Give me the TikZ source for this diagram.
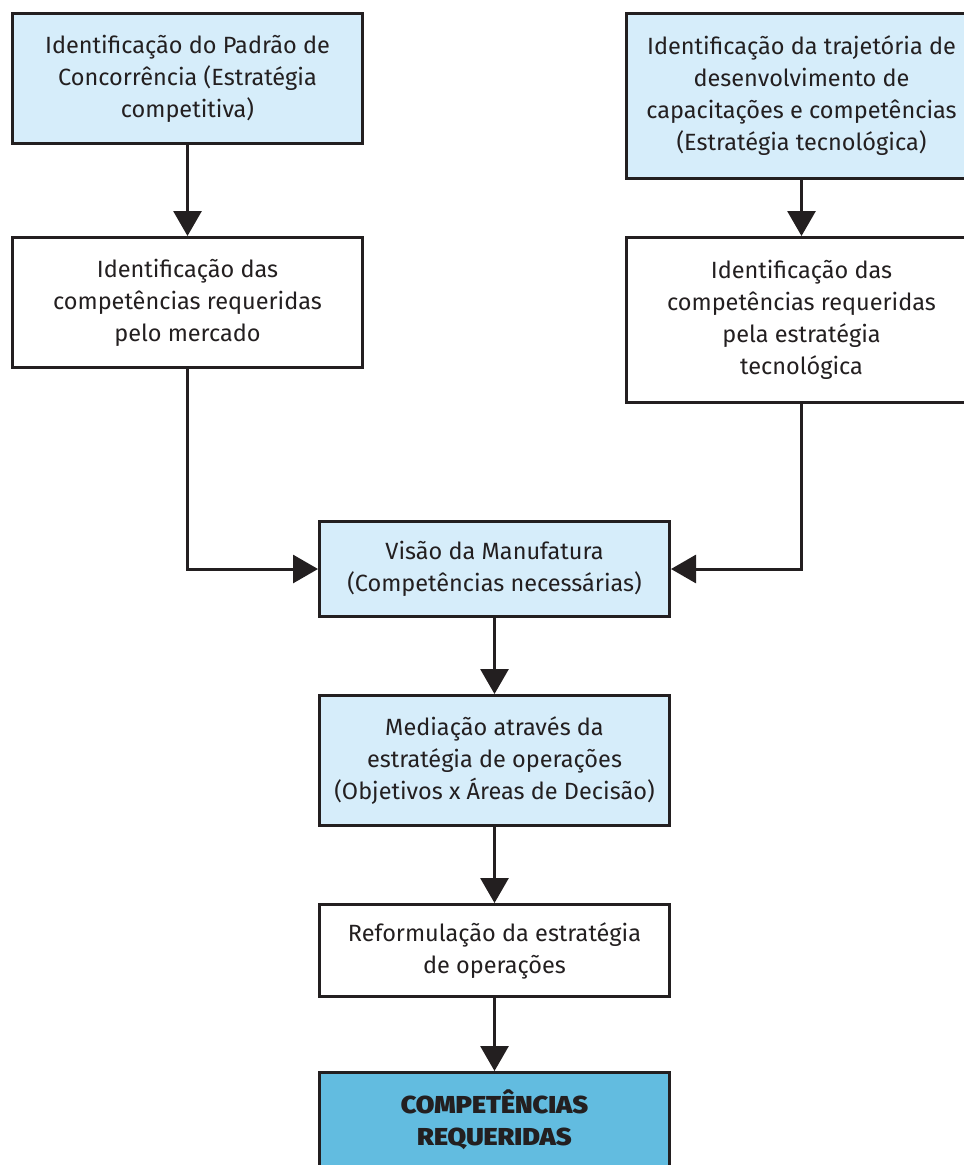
\documentclass[tikz,border=0pt]{standalone}
\usepackage{fontspec}
\setmainfont{Fira Sans}
\newfontfamily\heavyfont{Fira Sans Black}[FakeStretch=1.1]
\usetikzlibrary{arrows.meta}
\definecolor{ink}{HTML}{231F20}
\definecolor{paleblue}{HTML}{D6EDFA}
\definecolor{strongblue}{HTML}{62BCE0}
\tikzset{
  box/.style={draw=ink, line width=3pt, rectangle, anchor=north west,
    minimum width=350pt, align=center, text=ink,
    font=\fontsize{23.5}{32}\selectfont, inner sep=0pt},
  pale/.style={box, fill=paleblue},
  plain/.style={box, fill=white},
  strong/.style={box, fill=strongblue},
  conn/.style={draw=ink, line width=3pt,
    -{Triangle[length=25pt,width=28pt]}},
}
\begin{document}
\begin{tikzpicture}[x=1pt,y=-1pt]
\useasboundingbox (0,0) rectangle (964,1165);
\clip (0,0) rectangle (964,1165);
% left column
\node[pale, minimum height=130pt] (padrao) at (11,12)
  {Identificação do Padrão de\\Concorrência (Estratégia\\competitiva)};
\node[plain, minimum height=130pt] (mercado) at (11,236)
  {Identificação das\\competências requeridas\\pelo mercado};
% right column
\node[pale, minimum height=165pt] (trajetoria) at (625,12)
  {Identificação da trajetória de\\desenvolvimento de\\capacitações e competências\\(Estratégia tecnológica)};
\node[plain, minimum height=165pt] (tecno) at (625,236)
  {Identificação das\\competências requeridas\\pela estratégia\\tecnológica};
% central column
\node[pale, minimum height=95pt] (visao) at (318,520)
  {Visão da Manufatura\\(Competências necessárias)};
\node[pale, minimum height=130pt] (mediacao) at (318,694)
  {Mediação através da\\estratégia de operações\\(Objetivos x Áreas de Decisão)};
\node[plain, minimum height=92pt] (reform) at (318,903)
  {Reformulação da estratégia\\de operações};
\node[strong, minimum height=95pt, font=\fontsize{24.5}{32}\selectfont\heavyfont] (final) at (318,1071)
  {COMPETÊNCIAS\\REQUERIDAS};
% connectors
\draw[conn] (padrao.south) -- (mercado.north);
\draw[conn] (trajetoria.south) -- (tecno.north);
\draw[conn] (mercado.south) |- (visao.west);
\draw[conn] (tecno.south) |- (visao.east);
\draw[conn] (visao.south) -- (mediacao.north);
\draw[conn] (mediacao.south) -- (reform.north);
\draw[conn] (reform.south) -- (final.north);
\end{tikzpicture}
\end{document}
